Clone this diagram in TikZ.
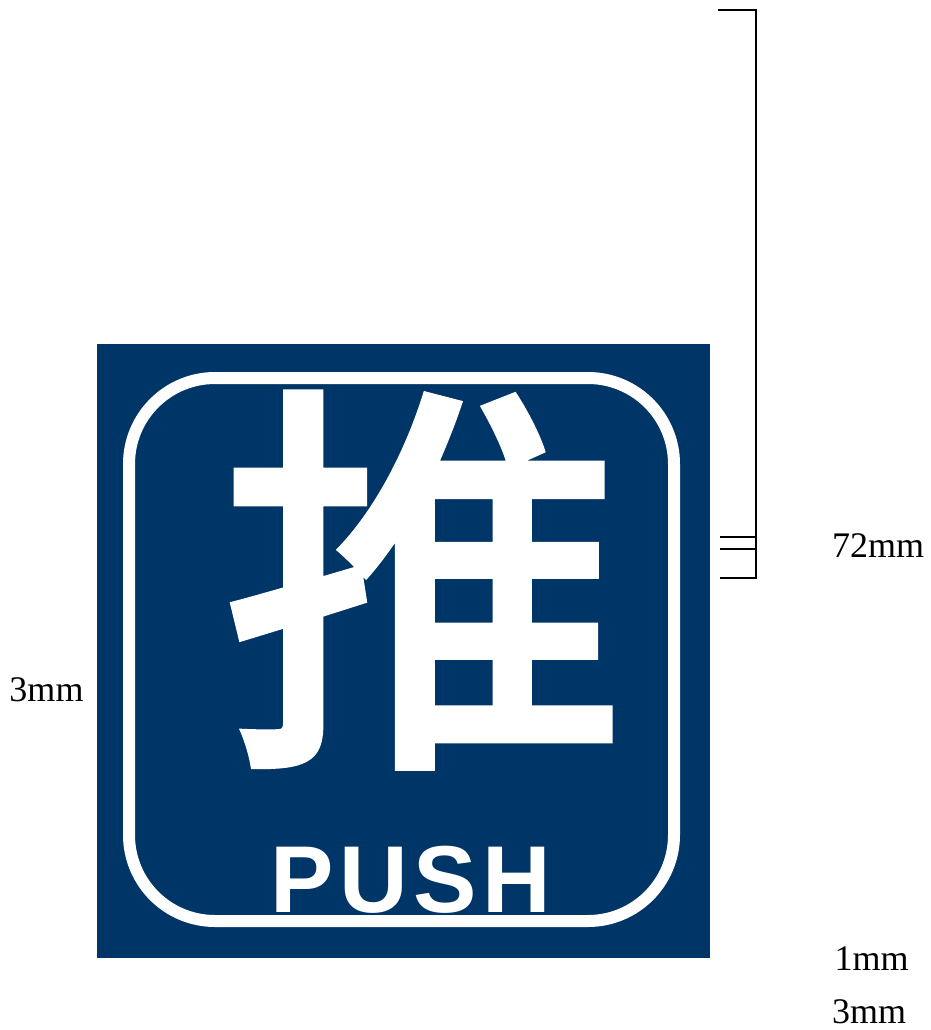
\documentclass[tikz,border=0pt]{standalone}
\usepackage{fontspec}
\setmainfont{Liberation Serif}
\newfontfamily\cjkbold[FakeBold=0.7]{Noto Sans CJK SC Medium}
\newfontfamily\pushfont[LetterSpace=6]{Liberation Sans Bold}
\definecolor{signblue}{HTML}{003567}
\tikzset{
  x=1pt,y=-1pt,
  dimlabel/.style={inner sep=0pt,font=\fontsize{36}{36}\selectfont,text=black},
  dimline/.style={draw=black,line width=1.3pt},
  frameline/.style={draw=white,line width=12pt,rounded corners=86pt}
}
\begin{document}
\begin{tikzpicture}
\useasboundingbox (0,0) rectangle (930,1030);
\fill[signblue] (97,344) rectangle (710,958);
\draw[frameline] (129,378) rectangle (674,921);
\node[inner sep=0pt,text=white,font=\fontsize{408}{408}\cjkbold] (glyph) at (424,580) {推};
\node[inner sep=0pt,text=white,font=\fontsize{95}{95}\pushfont] (push) at (411,879.5) {PUSH};
\coordinate (t0) at (718,10); \coordinate (c0) at (756,10);
\coordinate (t1) at (720,537); \coordinate (c1) at (756,537);
\coordinate (t2) at (720,549); \coordinate (c2) at (756,549);
\coordinate (t3) at (720,578); \coordinate (c3) at (756,578);
\draw[dimline] (t0) -- (c0) -- (c3) -- (t3);
\draw[dimline] (t1) -- (c1);
\draw[dimline] (t2) -- (c2);
\node[dimlabel] (a) at (878,546) {72mm};
\node[dimlabel] (b) at (46.5,690) {3mm};
\node[dimlabel] (c) at (871.5,959) {1mm};
\node[dimlabel] (d) at (869,1012) {3mm};
\end{tikzpicture}
\end{document}
